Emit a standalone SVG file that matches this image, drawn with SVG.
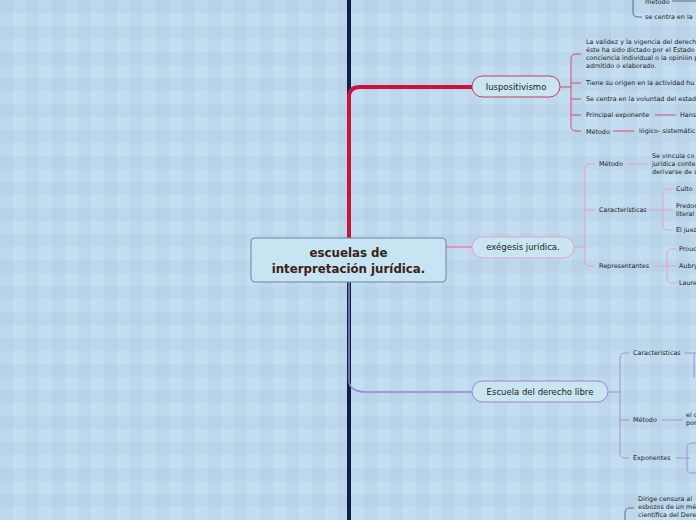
<svg xmlns="http://www.w3.org/2000/svg" width="696" height="520" viewBox="0 0 696 520">
<defs>
<pattern id="bg" x="0" y="0" width="26" height="26" patternUnits="userSpaceOnUse">
<rect width="26" height="26" fill="#c3def0"/>
<rect x="0" y="0" width="13" height="26" fill="#9fbdd8" opacity="0.18"/>
<rect x="0" y="0" width="26" height="13" fill="#9fbdd8" opacity="0.18"/>
</pattern>
<style>
.t{font-family:"DejaVu Sans",Verdana,sans-serif;font-size:6.4px;fill:#222;}
.n{font-family:"DejaVu Sans",Verdana,sans-serif;font-size:8.5px;fill:#222;text-anchor:middle;}
.red{fill:none;stroke:#d84a72;stroke-width:1;}
.pink{fill:none;stroke:#eaa0c6;stroke-width:1;}
.pur{fill:none;stroke:#a492d4;stroke-width:1;}
.gray{fill:none;stroke:#5a6a80;stroke-width:1;}
.c{font-family:"DejaVu Sans",Verdana,sans-serif;font-size:11.8px;font-weight:bold;fill:#3a2218;text-anchor:middle;}
</style>
</defs>
<rect width="696" height="520" fill="url(#bg)"/>
<g id="connectors">
<line x1="349" y1="0" x2="349" y2="520" stroke="#0e1f4c" stroke-width="4"/>
<path d="M349 240 V97 Q349 87 360 87 H472" fill="none" stroke="#c8143c" stroke-width="4"/>
<path d="M349 240 Q351 247 366 247 H472" fill="none" stroke="#eb8fbf" stroke-width="2"/>
<path d="M349 282 V382 Q351 392 366 392 H472" fill="none" stroke="#9a86cf" stroke-width="1.5"/>
<path d="M560 87 H571" class="red" stroke-width="1.5"/>
<path d="M581 54 H576 Q571 54 571 59 V126 Q571 131 576 131 H581" class="red"/>
<path d="M571 83 H581 M571 99 H581 M571 115 H581" class="red"/>
<path d="M655 115 H676 M613 131 H634" class="red"/>
<path d="M574 247 H585" class="pink"/>
<path d="M595 164 H590 Q585 164 585 169 V261 Q585 266 590 266 H595" class="pink"/>
<path d="M585 210 H595" class="pink"/>
<path d="M627 164 H648 M648 210 H663 M652 266 H667" class="pink"/>
<path d="M673 189 H668 Q663 189 663 194 V225 Q663 230 668 230 H673 M663 210 H673" class="pink"/>
<path d="M677 249 H672 Q667 249 667 254 V278 Q667 283 672 283 H677 M667 266 H677" class="pink"/>
<path d="M608 392 H620" class="pur"/>
<path d="M629 353 H625 Q620 353 620 358 V453 Q620 458 625 458 H629 M620 420 H629" class="pur"/>
<path d="M684 353 H696 M662 420 H682 M676 458 H690" class="pur"/>
<path d="M694 353 V378" class="pur"/>
<path d="M696 443 H692 Q687 443 687 448 V468 Q687 473 692 473 H696" class="pur"/>
<path d="M633 0 V12 Q633 17 638 17 H642" class="gray"/>
<path d="M672 1 H696" class="gray"/>
<path d="M634 508 H630 Q625 508 625 513 V520" class="gray"/>
</g>
<g id="central">
<rect x="251" y="238" width="195" height="44" rx="4" fill="#c6e4f1" stroke="#6c86a8" stroke-width="1"/>
<text class="c" x="348.5" y="257">escuelas de</text>
<text class="c" x="348.5" y="273">interpretación jurídica.</text>
</g>
<g id="iuspositivismo">
<rect x="472" y="76" width="88" height="21" rx="10.5" fill="#c9e5f2" stroke="#c83a62" stroke-width="1"/>
<text class="n" x="516" y="90">Iuspositivismo</text>
</g>
<g id="exegesis">
<rect x="472" y="237" width="102" height="21" rx="10.5" fill="#c9e5f2" stroke="#eaa0c6" stroke-width="1"/>
<text class="n" x="523" y="250">exégesis jurídica.</text>
</g>
<g id="derecho-libre">
<rect x="472" y="381" width="136" height="21" rx="10.5" fill="#c9e5f2" stroke="#9a86cf" stroke-width="1"/>
<text class="n" x="540" y="395">Escuela del derecho libre</text>
</g>
<g id="top-items">
<text class="t" x="645" y="4">método</text>
<text class="t" x="645" y="19">se centra en la</text>
</g>
<g id="ius-items">
<text class="t" x="586" y="44">La validez y la vigencia del derech</text>
<text class="t" x="586" y="52">éste ha sido dictado por el Estado</text>
<text class="t" x="586" y="60">conciencia individual o la opinión p</text>
<text class="t" x="586" y="68">admitido o elaborado.</text>
<text class="t" x="586" y="85">Tiene su origen en la actividad hu</text>
<text class="t" x="586" y="101">Se centra en la voluntad del estad</text>
<text class="t" x="586" y="117">Principal exponente</text>
<text class="t" x="680" y="117">Hans</text>
<text class="t" x="586" y="134">Método</text>
<text class="t" x="639" y="133">lógico- sistemátic</text>
</g>
<g id="exegesis-items">
<text class="t" x="599" y="166">Método</text>
<text class="t" x="652" y="158">Se vincula co</text>
<text class="t" x="652" y="166">jurídica conte</text>
<text class="t" x="652" y="174">derivarse de s</text>
<text class="t" x="599" y="212">Características</text>
<text class="t" x="676" y="191">Culto</text>
<text class="t" x="676" y="208">Predor</text>
<text class="t" x="676" y="216">literal</text>
<text class="t" x="676" y="232">El juez</text>
<text class="t" x="599" y="268">Representantes</text>
<text class="t" x="679" y="251">Prouc</text>
<text class="t" x="679" y="268">Aubry</text>
<text class="t" x="679" y="285">Laure</text>
</g>
<g id="libre-items">
<text class="t" x="633" y="355">Características</text>
<text class="t" x="633" y="422">Método</text>
<text class="t" x="686" y="417">el c</text>
<text class="t" x="686" y="425">por</text>
<text class="t" x="633" y="460">Exponentes</text>
</g>
<g id="bottom-items">
<text class="t" x="638" y="501">Dirige censura al</text>
<text class="t" x="638" y="509">esbozos de un mé</text>
<text class="t" x="638" y="517">científica del Dere</text>
</g>
</svg>
